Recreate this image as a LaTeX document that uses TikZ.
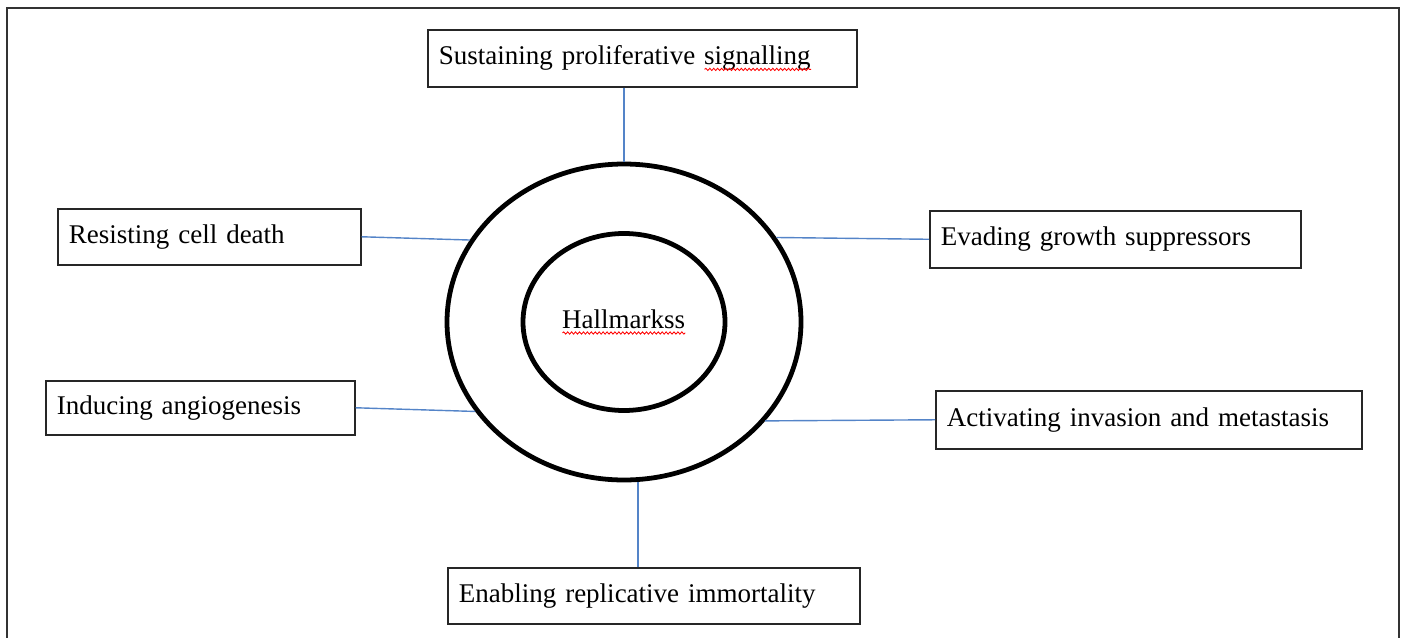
\documentclass[tikz,border=0pt]{standalone}
\usepackage{fontspec}
\setmainfont{Liberation Serif}
\usepackage{xcolor}
\usetikzlibrary{shapes.geometric,decorations.pathmorphing}
\definecolor{linkblue}{RGB}{84,132,200}
\newcommand{\pxu}{0.025cm}
\newcommand{\hmfont}{\fontsize{19.2}{23}\selectfont}
\newsavebox{\wavebox}
\newlength{\wavelen}
\newcommand{\redwave}[1]{\sbox{\wavebox}{#1}\setlength{\wavelen}{\wd\wavebox}%
  \rlap{\usebox{\wavebox}}\tikz[baseline=0pt]\draw[red, line width=0.6pt, decorate, decoration={snake, amplitude=0.8pt, segment length=2.8pt}] (0pt,-3.4pt) -- (\wavelen,-3.4pt);}
\tikzset{
  hallbox/.style={draw=black!85, line width=1.1pt, anchor=north west, align=left, font=\hmfont, inner xsep=11*\pxu, inner ysep=0pt},
  ringline/.style={draw, ellipse, line width=3.4pt, inner sep=0pt},
  link/.style={draw=linkblue, line width=1pt}
}

\begin{document}
\begin{tikzpicture}[x=0.025cm,y=-0.025cm]
\useasboundingbox (0,0) rectangle (1402,638);
% frame
\draw [black!80, line width=1.1pt] (7,638) -- (7,8) -- (1399,8) -- (1399,638);

% centre rings
\node [ringline, minimum width=354*\pxu, minimum height=316*\pxu] (ring) at (624,322) {};
\node [ringline, minimum width=202*\pxu, minimum height=177*\pxu, font=\hmfont] (core) at (624,322) {\redwave{Hallmarkss}};

% hallmark boxes
\node [hallbox, text width=407*\pxu, minimum height=57*\pxu] (sps) at (427,29) {Sustaining proliferative \redwave{signalling}};
\node [hallbox, text width=281*\pxu, minimum height=56*\pxu] (rcd) at (57,208) {Resisting cell death};
\node [hallbox, text width=349*\pxu, minimum height=57*\pxu] (egs) at (929,210) {Evading growth suppressors};
\node [hallbox, text width=287*\pxu, minimum height=54*\pxu] (ian) at (45,380) {Inducing angiogenesis};
\node [hallbox, text width=404*\pxu, minimum height=58*\pxu] (aim) at (935,390) {Activating invasion and metastasis};
\node [hallbox, text width=390*\pxu, minimum height=56*\pxu] (eri) at (447,567) {Enabling replicative immortality};

% connectors
\draw [link] (sps.south -| ring.north) -- (ring.north);
\draw [link] (rcd.east) -- (ring.152);
\draw [link] (egs.west) -- (ring.29);
\draw [link] (ian.east) -- (ring.211);
\draw [link] (aim.west) -- (ring.325);
\draw [link] (ring.275) -- (ring.275 |- eri.north);
\end{tikzpicture}
\end{document}
